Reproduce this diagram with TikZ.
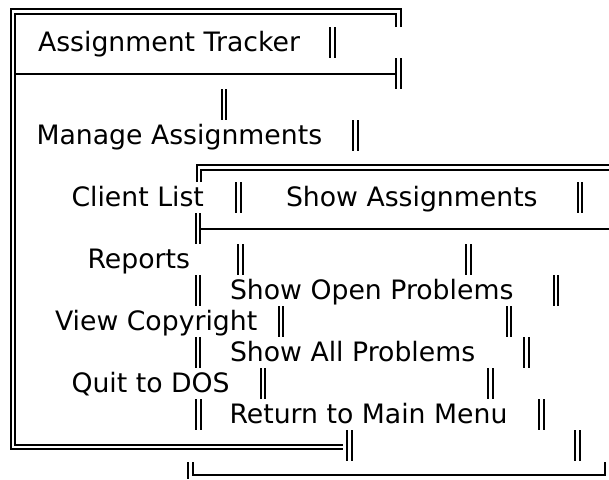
\documentclass[tikz,border=0pt]{standalone}
\usepackage{fontspec}
\setmainfont{DejaVu Sans}
\begin{document}
\begin{tikzpicture}[x=1pt,y=-1pt,line width=2pt,line join=miter,
  lbl/.style={anchor=base west,inner sep=0pt,outer sep=0pt,font=\fontsize{26.7}{31}\selectfont},
  dbar/.pic={\draw[line width=2pt] (-2.3,-15.5) -- (-2.3,15.5) (2.3,-15.5) -- (2.3,15.5);}]
\useasboundingbox[fill=white] (0,0) rectangle (609,479);
% ---- main menu box ----
\draw (401,27) -- (401,9.3) -- (11,9.3) -- (11,449) -- (343,449);
\draw (396,27) -- (396,13.5) -- (15,13.5) -- (15,445) -- (343,445);
\draw (396,58) -- (396,89) (401,58) -- (401,89);
\draw (15,73.5) -- (396,73.5);
% ---- submenu box ----
\draw (196.5,182) -- (196.5,165) -- (609,165);
\draw (200.5,182) -- (200.5,169.5) -- (609,169.5);
\draw (196,213) -- (196,244) (200,213) -- (200,244);
\draw (200,228.5) -- (609,228.5);
\draw (188,462) -- (188,479);
\draw (192.5,462) -- (192.5,474.5) -- (605,474.5) -- (605,462);
% ---- stray double bars ----
\pic at (332.5,42.5) {dbar};
\pic at (224,104.5) {dbar};
\pic at (355.5,135.5) {dbar};
\pic at (238.5,197.5) {dbar};
\pic at (580,197.5) {dbar};
\pic at (240.5,259.5) {dbar};
\pic at (468.5,259.5) {dbar};
\pic at (198,290.5) {dbar};
\pic at (556,290.5) {dbar};
\pic at (281,321.5) {dbar};
\pic at (509,321.5) {dbar};
\pic at (198,352.5) {dbar};
\pic at (526.5,352.5) {dbar};
\pic at (263,383.5) {dbar};
\pic at (490.5,383.5) {dbar};
\pic at (198.5,414.5) {dbar};
\pic at (541.5,414.5) {dbar};
\pic at (349.5,445.5) {dbar};
\pic at (577.5,445.5) {dbar};
% ---- labels ----
\node[lbl] (title) at (38,51.5) {Assignment Tracker};
\node[lbl] (manage) at (36.5,144.5) {Manage Assignments};
\node[lbl] (client) at (71.5,206.5) {Client List};
\node[lbl] (showa) at (286,206.5) {Show Assignments};
\node[lbl] (reports) at (87.5,268.5) {Reports};
\node[lbl] (open) at (230,299.5) {Show Open Problems};
\node[lbl] (copy) at (55,330.5) {View Copyright};
\node[lbl] (allp) at (230,361.5) {Show All Problems};
\node[lbl] (quit) at (71.5,392.5) {Quit to DOS};
\node[lbl] (ret) at (229.5,423.5) {Return to Main Menu};
\end{tikzpicture}
\end{document}
